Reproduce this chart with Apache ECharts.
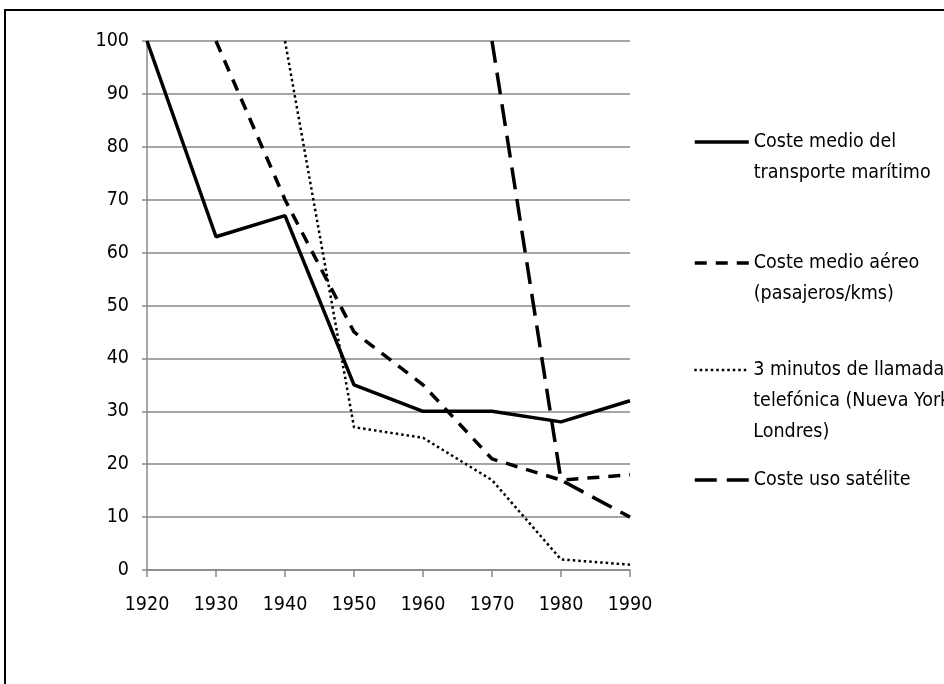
<!DOCTYPE html>
<html>
<head>
<meta charset="utf-8">
<title>Coste de transporte y comunicaciones</title>
<script src="https://cdn.jsdelivr.net/npm/echarts@6/dist/echarts.min.js"></script>
<style>
  html, body { margin: 0; padding: 0; background: #fff; }
  #costeChart { width: 944px; height: 684px; }
</style>
</head>
<body>
<div id="costeChart"></div>
<script>
  // datos (índice, 1920 = 100)
  var years = ['1920', '1930', '1940', '1950', '1960', '1970', '1980', '1990']
  var maritimo = [100, 63, 67, 35, 30, 30, 28, 32]
  var aereo = [null, 100, 70, 45, 35, 21, 17, 18]
  var llamada = [null, null, 100, 27, 25, 17, 2, 1]
  var satelite = [null, null, null, null, null, 100, 17, 10]

  var names = [
    'Coste medio del\ntransporte marítimo',
    'Coste medio aéreo\n(pasajeros/kms)',
    '3 minutos de llamada\ntelefónica (Nueva York-\nLondres)',
    'Coste uso satélite'
  ]

  var font = '"Liberation Sans Narrow", "DejaVu Sans Condensed", sans-serif'
  var gridColor = '#898989'

  // estilos de línea de cada serie (también para el icono de la leyenda)
  var lineStyles = [
    { color: '#000', width: 3.5, type: 'solid' },
    { color: '#000', width: 3.5, type: [12, 9] },
    { color: '#000', width: 2.5, type: [2.5, 3] },
    { color: '#000', width: 3.5, type: [22, 10] }
  ]

  // leyenda: una por serie, con el icono a la altura de la primera línea
  var legendRows = [142, 263, 370, 480]
  var lineH = 31
  var legends = names.map(function (name, i) {
    var lines = name.split('\n').length
    var total = lines * 2 - 1
    return {
      data: [name],
      left: 693,
      top: legendRows[i] - total * lineH / 2,
      padding: 0,
      itemWidth: 54,
      itemHeight: 14,
      itemGap: 0,
      selectedMode: false,
      itemStyle: { opacity: 0, borderWidth: 0 },
      lineStyle: {
        color: '#000',
        width: i === 2 ? 2.5 : 3.5,
        type: i === 3 ? [22, 10] : lineStyles[i].type
      },
      formatter: function (n) {
        return new Array(lines).join('\n') + n
      },
      textStyle: {
        color: '#000',
        fontFamily: font,
        fontSize: 19.5,
        lineHeight: lineH
      }
    }
  })

  var chart = echarts.init(document.getElementById('costeChart'))
  chart.setOption({
    animation: false,
    backgroundColor: '#fff',
    graphic: [{
      type: 'rect',
      shape: { x: 5, y: 10, width: 1200, height: 1200 },
      style: { fill: 'none', stroke: '#000', lineWidth: 2 },
      silent: true
    }],
    legend: legends,
    grid: {
      left: 147,
      right: 314,
      top: 41,
      bottom: 114
    },
    xAxis: {
      type: 'category',
      boundaryGap: false,
      data: years,
      axisLine: { lineStyle: { color: gridColor, width: 1.5 } },
      axisTick: { show: true, length: 7, lineStyle: { color: gridColor, width: 1.5 } },
      axisLabel: {
        color: '#000',
        fontFamily: font,
        fontSize: 19.5,
        margin: 25
      }
    },
    yAxis: {
      type: 'value',
      min: 0,
      max: 100,
      interval: 10,
      axisLine: { show: true, lineStyle: { color: gridColor, width: 1.5 } },
      axisTick: { show: true, length: 5, lineStyle: { color: gridColor, width: 1.5 } },
      axisLabel: {
        color: '#000',
        fontFamily: font,
        fontSize: 19.5,
        margin: 18
      },
      splitLine: { show: true, lineStyle: { color: gridColor, width: 1.5 } }
    },
    series: [{
      name: names[0],
      type: 'line',
      symbol: 'none',
      data: maritimo,
      lineStyle: lineStyles[0],
      itemStyle: { color: '#000' },
      z: 4
    }, {
      name: names[1],
      type: 'line',
      symbol: 'none',
      data: aereo,
      lineStyle: lineStyles[1],
      itemStyle: { color: '#000' },
      z: 3
    }, {
      name: names[2],
      type: 'line',
      symbol: 'none',
      data: llamada,
      lineStyle: lineStyles[2],
      itemStyle: { color: '#000' },
      z: 2
    }, {
      name: names[3],
      type: 'line',
      symbol: 'none',
      data: satelite,
      lineStyle: lineStyles[3],
      itemStyle: { color: '#000' },
      z: 3
    }]
  })
</script>
</body>
</html>
